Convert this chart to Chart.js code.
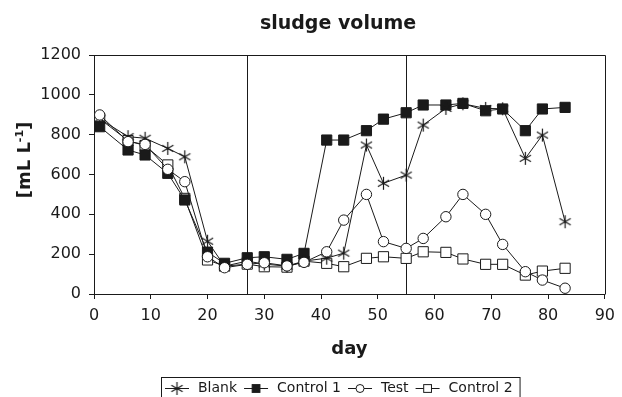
<!DOCTYPE html>
<html>
<head>
<meta charset="utf-8">
<script src="https://cdn.jsdelivr.net/npm/chart.js@4.4.0/dist/chart.umd.min.js"></script>
<style>
  html, body { margin: 0; padding: 0; background: #fff; }
</style>
</head>
<body>
<canvas id="canvas" width="622" height="397"></canvas>
<script>
// sampling days (x values)
var days = [1, 6, 9, 13, 16, 20, 23, 27, 30, 34, 37, 41, 44, 48, 51, 55, 58, 62, 65, 69, 72, 76, 79, 83];

// sludge volume, mL/L
var blank    = [880, 790, 782, 731, 689, 265, 140, 165, 150, 140, 165, 180, 205, 748, 556, 597, 848, 932, 955, 932, 930, 681, 798, 363];
var control1 = [840, 723, 698, 606, 472, 210, 154, 182, 187, 174, 204, 773, 773, 820, 878, 910, 949, 949, 957, 920, 929, 820, 929, 937];
var test     = [899, 765, 751, 626, 564, 187, 132, 149, 157, 141, 159, 212, 371, 500, 263, 229, 279, 388, 500, 400, 249, 112, 70, 29];
var control2 = [880, 770, 745, 648, 480, 171, 140, 150, 137, 135, 165, 154, 137, 179, 187, 179, 212, 209, 176, 149, 149, 95, 115, 129];

var seriesNames = ['Blank', 'Control 1', 'Test', 'Control 2'];
var phaseDays = [27, 55];

var ink = '#1a1a1a';
var font = 'DejaVu Sans';

// six-armed asterisk marker
function makeAsterisk(r) {
    var c = document.createElement('canvas');
    var s = r * 2 + 2;
    c.width = s;
    c.height = s;
    var g = c.getContext('2d');
    g.strokeStyle = ink;
    g.lineWidth = 1.2;
    g.beginPath();
    for (var k = 0; k < 3; k++) {
        var a = Math.PI / 2 + k * Math.PI / 3;
        g.moveTo(s / 2 + Math.cos(a) * r, s / 2 - Math.sin(a) * r);
        g.lineTo(s / 2 - Math.cos(a) * r, s / 2 + Math.sin(a) * r);
    }
    g.stroke();
    return c;
}
var asterisk = makeAsterisk(6.5);

function toPoints(values) {
    return values.map(function(v, i) { return {x: days[i], y: v}; });
}

var markerStyles = [
    {pointStyle: asterisk, radius: 6.5, fill: '#fff'},
    {pointStyle: 'rect', radius: 7.2, fill: ink},
    {pointStyle: 'circle', radius: 5.2, fill: '#fff'},
    {pointStyle: 'rect', radius: 7.2, fill: '#fff'}
];
var seriesValues = [blank, control1, test, control2];
var drawOrder = [1, 2, 0, 3];

var datasets = [];
for (var i = 0; i < seriesValues.length; i++) {
    datasets.push({
        label: seriesNames[i],
        data: toPoints(seriesValues[i]),
        borderColor: ink,
        borderWidth: 1,
        pointStyle: markerStyles[i].pointStyle,
        pointRadius: markerStyles[i].radius,
        pointBackgroundColor: markerStyles[i].fill,
        pointBorderColor: ink,
        pointBorderWidth: 1,
        fill: false,
        tension: 0,
        order: drawOrder[i]
    });
}

function drawMarker(ctx, idx, x, y) {
    var m = markerStyles[idx];
    ctx.save();
    ctx.strokeStyle = ink;
    ctx.lineWidth = 1;
    ctx.fillStyle = m.fill;
    if (m.pointStyle === 'rect') {
        var h = 5 * Math.SQRT1_2 * 1.1;
        ctx.fillRect(x - h, y - h, 2 * h, 2 * h);
        ctx.strokeRect(x - h, y - h, 2 * h, 2 * h);
    } else if (m.pointStyle === 'circle') {
        ctx.beginPath();
        ctx.arc(x, y, 4, 0, Math.PI * 2);
        ctx.fill();
        ctx.stroke();
    } else {
        ctx.drawImage(m.pointStyle, x - m.pointStyle.width / 2, y - m.pointStyle.height / 2);
    }
    ctx.restore();
}

var decor = {
    id: 'decor',
    beforeDatasetsDraw: function(chart) {
        var ctx = chart.ctx;
        var area = chart.chartArea;
        var xs = chart.scales.x;
        ctx.save();
        ctx.strokeStyle = ink;
        ctx.lineWidth = 1;
        phaseDays.forEach(function(d) {
            var px = Math.round(xs.getPixelForValue(d)) + 0.5;
            ctx.beginPath();
            ctx.moveTo(px, area.top);
            ctx.lineTo(px, area.bottom);
            ctx.stroke();
        });
        ctx.restore();
    },
    afterDraw: function(chart) {
        var ctx = chart.ctx;
        var area = chart.chartArea;
        ctx.save();
        ctx.strokeStyle = ink;
        ctx.lineWidth = 1;
        // top and right frame
        ctx.beginPath();
        ctx.moveTo(Math.round(area.left) + 0.5, Math.round(area.top) + 0.5);
        ctx.lineTo(Math.round(area.right) + 0.5, Math.round(area.top) + 0.5);
        ctx.lineTo(Math.round(area.right) + 0.5, Math.round(area.bottom) + 0.5);
        ctx.stroke();

        ctx.fillStyle = ink;
        // chart title
        ctx.font = 'bold 19px "' + font + '"';
        ctx.textAlign = 'center';
        ctx.textBaseline = 'alphabetic';
        ctx.fillText('sludge volume', 338, 29);

        // x axis title
        ctx.font = 'bold 18px "' + font + '"';
        ctx.fillText('day', (area.left + area.right) / 2, 354);

        // y axis title with superscript
        ctx.save();
        ctx.translate(30, 160);
        ctx.rotate(-Math.PI / 2);
        ctx.font = 'bold 18px "' + font + '"';
        var a = '[mL L', b = '-1', c = ']';
        var wa = ctx.measureText(a).width;
        var wc = ctx.measureText(c).width;
        ctx.font = 'bold 11px "' + font + '"';
        var wb = ctx.measureText(b).width;
        var x0 = -(wa + wb + wc) / 2;
        ctx.textAlign = 'left';
        ctx.font = 'bold 18px "' + font + '"';
        ctx.fillText(a, x0, 0);
        ctx.fillText(c, x0 + wa + wb, 0);
        ctx.font = 'bold 11px "' + font + '"';
        ctx.fillText(b, x0 + wa, -7);
        ctx.restore();

        // legend
        ctx.font = '14px "' + font + '"';
        ctx.textAlign = 'left';
        ctx.textBaseline = 'middle';
        var boxLeft = 161, boxTop = 377, cy = 388;
        var x = boxLeft + 4;
        for (var i = 0; i < seriesNames.length; i++) {
            ctx.beginPath();
            ctx.moveTo(x, cy + 0.5);
            ctx.lineTo(x + 24, cy + 0.5);
            ctx.stroke();
            drawMarker(ctx, i, x + 12, cy + 0.5);
            x += 24 + 9;
            ctx.fillStyle = ink;
            ctx.fillText(seriesNames[i], x, cy);
            x += ctx.measureText(seriesNames[i]).width + 7;
        }
        ctx.strokeRect(boxLeft + 0.5, boxTop + 0.5, x - boxLeft, 40);
        ctx.restore();
    }
};

var canvas = document.getElementById('canvas');
var chart = new Chart(canvas, {
    type: 'line',
    data: {datasets: datasets},
    options: {
        responsive: false,
        animation: false,
        layout: {padding: {top: 55, right: 14, bottom: 0, left: 0}},
        plugins: {
            legend: {display: false},
            title: {display: false},
            tooltip: {enabled: false}
        },
        scales: {
            x: {
                type: 'linear',
                min: 0,
                max: 90,
                ticks: {stepSize: 10, padding: 7, color: ink, font: {family: font, size: 16}, maxRotation: 0,
                        callback: function(v) { return String(v); }},
                grid: {drawOnChartArea: false, tickLength: 5, color: ink},
                border: {color: ink, width: 1},
                afterFit: function(scale) { scale.height = 103; }
            },
            y: {
                min: 0,
                max: 1200,
                ticks: {stepSize: 200, padding: 8, color: ink, font: {family: font, size: 16},
                        callback: function(v) { return String(v); }},
                grid: {drawOnChartArea: false, tickLength: 5, color: ink},
                border: {color: ink, width: 1},
                afterFit: function(scale) { scale.width = 94; }
            }
        }
    },
    plugins: [decor]
});
</script>
</body>
</html>
